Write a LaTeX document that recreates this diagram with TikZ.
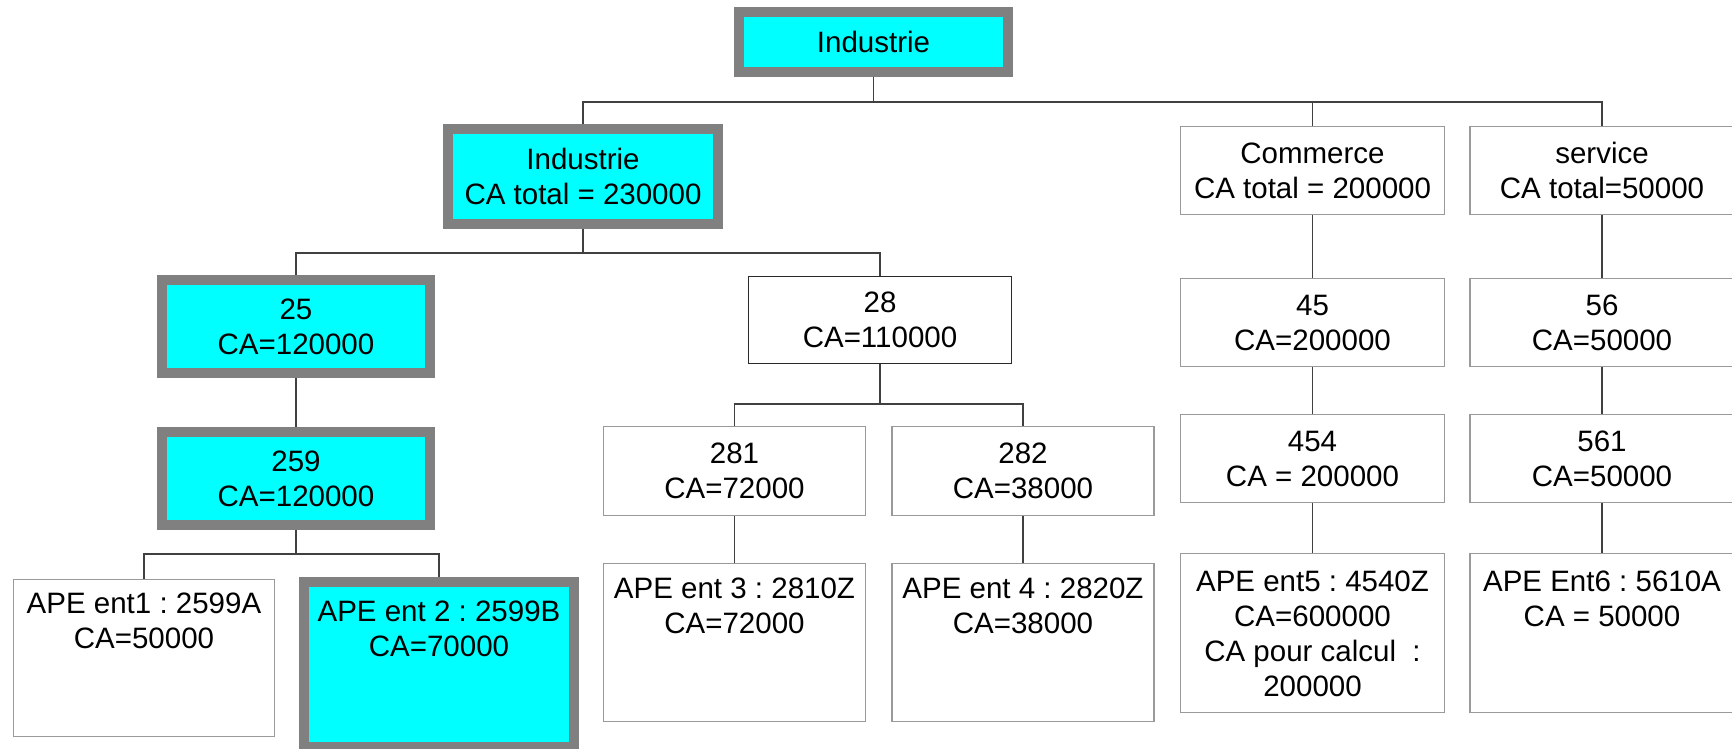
\documentclass[tikz,border=0pt]{standalone}
\usepackage{fontspec}
\setmainfont{Liberation Sans}
\definecolor{hcyan}{HTML}{00FFFF}
\definecolor{hgray}{HTML}{808080}
\definecolor{thincol}{HTML}{9A9A9A}
\definecolor{linecol}{HTML}{404040}
\definecolor{darkcol}{HTML}{2A2A2A}
\frenchspacing
\begin{document}
\frenchspacing
\begin{tikzpicture}[x=1pt,y=-1pt,
  txt/.style={font=\fontsize{29.5}{35}\selectfont\frenchspacing, align=center},
  hibox/.style={txt, draw=hgray, line width=10pt, fill=hcyan, inner sep=0pt},
  thinbox/.style={txt, draw=thincol, line width=1.5pt, fill=white, inner sep=0pt},
  darkbox/.style={thinbox, draw=darkcol},
  toplbl/.style={txt, anchor=north, inner sep=0pt},
  conn/.style={draw=linecol, line width=1.5pt},
  cw/.style={minimum width=262pt}
]
\useasboundingbox (0,0) rectangle (1732,749);
% highlighted boxes
\node[hibox, minimum width=269pt, minimum height=60pt] (root) at (873.5,42) {Industrie};
\node[hibox, minimum width=270pt, minimum height=95pt] (ind) at (583,176.5) {Industrie\\CA total = 230000};
\node[hibox, minimum width=268pt, minimum height=93pt] (c25) at (296,326.5) {25\\CA=120000};
\node[hibox, minimum width=268pt, minimum height=93pt] (c259) at (296,478.5) {259\\CA=120000};
\node[hibox, minimum width=270pt, minimum height=165pt,
  label={[toplbl, yshift=-24pt]north:{APE ent 2 : 2599B\\CA=70000}}] (ent2) at (439,664.5) {};
\node[thinbox, minimum width=261pt, minimum height=157pt,
  label={[toplbl, yshift=-14pt]north:{APE ent1 : 2599A\\CA=50000}}] (ent1) at (144,658) {};
% 28 branch
\node[darkbox, minimum width=263pt, minimum height=87pt] (c28) at (880,320) {28\\CA=110000};
\node[thinbox, cw, minimum height=89pt] (c281) at (734.5,471) {281\\CA=72000};
\node[thinbox, cw, minimum height=89pt] (c282) at (1023,471) {282\\CA=38000};
\node[thinbox, cw, minimum height=158pt,
  label={[toplbl, yshift=-15pt]north:{APE ent 3 : 2810Z\\CA=72000}}] (ent3) at (734.5,642.5) {};
\node[thinbox, cw, minimum height=158pt,
  label={[toplbl, yshift=-15pt]north:{APE ent 4 : 2820Z\\CA=38000}}] (ent4) at (1023,642.5) {};
% commerce
\node[thinbox, minimum width=264pt, minimum height=88pt] (com) at (1312.5,170.5) {Commerce\\CA total = 200000};
\node[thinbox, minimum width=264pt, minimum height=88pt] (c45) at (1312.5,322.5) {45\\CA=200000};
\node[thinbox, minimum width=264pt, minimum height=88pt] (c454) at (1312.5,458.5) {454\\CA = 200000};
\node[thinbox, minimum width=264pt, minimum height=159pt,
  label={[toplbl, yshift=-18pt]north:{APE ent5 : 4540Z\\CA=600000\\CA pour calcul\ \ :\\200000}}] (ent5) at (1312.5,633) {};
% service
\node[thinbox, minimum width=264pt, minimum height=88pt] (serv) at (1602,170.5) {service\\CA total=50000};
\node[thinbox, minimum width=264pt, minimum height=88pt] (c56) at (1602,322.5) {56\\CA=50000};
\node[thinbox, minimum width=264pt, minimum height=88pt] (c561) at (1602,458.5) {561\\CA=50000};
\node[thinbox, minimum width=264pt, minimum height=159pt,
  label={[toplbl, yshift=-18pt]north:{APE Ent6 : 5610A\\CA = 50000}}] (ent6) at (1602,633) {};
% connectors
\coordinate (j0) at (873.5,102);
\draw[conn] (root.south) -- (j0);
\draw[conn] (ind.north) |- (serv.north |- j0) -- (serv.north);
\draw[conn] (com.north) -- (com.north |- j0);
\coordinate (j1) at (583,253);
\draw[conn] (ind.south) -- (j1);
\draw[conn] (c25.north) |- (c28.north |- j1) -- (c28.north);
\draw[conn] (c25.south) -- (c259.north);
\coordinate (j2) at (296,554);
\draw[conn] (c259.south) -- (j2);
\draw[conn] (ent1.north) |- (ent2.north |- j2) -- (ent2.north);
\coordinate (j3) at (880,404);
\draw[conn] (c28.south) -- (j3);
\draw[conn] (c281.north) |- (c282.north |- j3) -- (c282.north);
\draw[conn] (c281.south) -- (ent3.north);
\draw[conn] (c282.south) -- (ent4.north);
\draw[conn] (com.south) -- (c45.north);
\draw[conn] (c45.south) -- (c454.north);
\draw[conn] (c454.south) -- (ent5.north);
\draw[conn] (serv.south) -- (c56.north);
\draw[conn] (c56.south) -- (c561.north);
\draw[conn] (c561.south) -- (ent6.north);
\end{tikzpicture}
\end{document}
